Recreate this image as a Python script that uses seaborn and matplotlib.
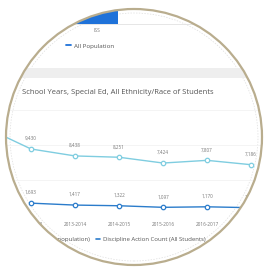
import numpy as np
import pandas as pd
import matplotlib
matplotlib.use('Agg')
import matplotlib.pyplot as plt
import matplotlib.patches as mpatches
from matplotlib.path import Path
from matplotlib.lines import Line2D
from matplotlib.transforms import IdentityTransform
import seaborn as sns

# Data
years = ['2011-2012', '2012-2013', '2013-2014', '2014-2015', '2015-2016',
         '2016-2017', '2017-2018']
all_population = [12400, 9430, 8438, 8251, 7424, 7807, 7186]
all_students = [np.nan, 1693, 1417, 1322, 1097, 1170, 1044]
bar_cats = ['ISS']
bar_vals = [100]

light = '#7fcde0'
dark = '#2b7ccb'
grey_txt = '#777777'

sns.set_theme(style='white')
plt.rcParams['font.family'] = ['Open Sans', 'DejaVu Sans']

W, H = 266, 268
fig = plt.figure(figsize=(W / 100, H / 100), dpi=100)
fig.patch.set_facecolor('white')


def rect(l, t, r, b):
    return [l / W, 1 - b / H, (r - l) / W, (b - t) / H]


# top visual: a single column, mostly outside the lens
axb = fig.add_axes(rect(55, -20, 230, 24))
bdf = pd.DataFrame({'cat': bar_cats, 'val': bar_vals})
sns.barplot(data=bdf, x='cat', y='val', color='#1f72d9', saturation=1, width=0.8,
            linewidth=0, edgecolor='none', ax=axb)
axb.set_xlim(-0.8, 2.53)
axb.set_ylim(0, 60)
axb.set_xlabel('')
axb.set_ylabel('')
axb.set_yticks([])
for s in ['top', 'right', 'left']:
    axb.spines[s].set_visible(False)
axb.spines['bottom'].set_color('#e2e2e2')
axb.spines['bottom'].set_linewidth(0.6)
axb.tick_params(axis='x', length=0, pad=3, labelsize=3.6, labelcolor=grey_txt)
axb.patch.set_alpha(0)
fig.legend(handles=[Line2D([], [], color='#1f72d9', lw=1.3)], labels=['All Population'],
           loc='center left', bbox_to_anchor=(63 / W, 1 - 46 / H), frameon=False,
           fontsize=4.5, handlelength=0.8, handletextpad=0.5, borderpad=0,
           labelcolor='#555555')

# grey separator band
fig.add_artist(mpatches.Rectangle((0, 1 - 78 / H), 1, 10 / H, transform=fig.transFigure,
                                  facecolor='#eeeeee', edgecolor='none'))

fig.text(22 / W, 1 - 92 / H, 'School Years, Special Ed, All Ethnicity/Race of Students',
         fontsize=5.5, color='#555555', va='center', ha='left')

# main line chart
ax = fig.add_axes(rect(0, 100, 266, 215))
df = pd.DataFrame({'year': years, 'pop': all_population, 'stu': all_students})
for col, c in [('pop', light), ('stu', dark)]:
    sns.lineplot(data=df, x='year', y=col, color=c, lw=1.0, marker='o', markersize=3.2,
                 markerfacecolor='white', markeredgecolor=c, markeredgewidth=0.9, ax=ax)
    for i, v in enumerate(df[col]):
        if not np.isnan(v):
            ax.annotate(f'{int(v):,}', (i, v), xytext=(0, 7.5), textcoords='offset points',
                        ha='center', va='center', fontsize=3.3, color=grey_txt)
ax.set_xlim(1 - 31 / 44, 1 + 235 / 44)
ax.set_ylim(0, 115 / 0.007)
ax.set_yticks([5000, 10000, 15000])
ax.set_yticklabels([])
ax.grid(axis='y', color='#f3f3f3', lw=0.6)
ax.set_xlabel('')
ax.set_ylabel('')
ax.tick_params(axis='x', length=0, pad=5, labelsize=3.4, labelcolor=grey_txt)
ax.tick_params(axis='y', length=0)
sns.despine(ax=ax, left=True, bottom=True)
ax.patch.set_alpha(0)

ax.legend(handles=[Line2D([], [], color=light, lw=1.2), Line2D([], [], color=dark, lw=1.2)],
          labels=['Enrollment (All population)', 'Discipline Action Count (All Students)'],
          loc='center right', bbox_to_anchor=(209 / W, 1 - 239 / H),
          bbox_transform=fig.transFigure, ncol=2, frameon=False, fontsize=4.3,
          handlelength=0.8, handletextpad=0.5, columnspacing=1.0, borderpad=0,
          labelcolor='#555555')

# lens: white mask outside the circle, then the rim
cx, cy, r = 134, H - 137, 128
t = np.linspace(0, 2 * np.pi, 200)
circ = np.column_stack([cx + r * np.cos(t), cy + r * np.sin(t)])
outer = np.array([[0, 0], [0, H], [W, H], [W, 0], [0, 0]], float)
verts = np.vstack([outer, circ])
codes = ([Path.MOVETO] + [Path.LINETO] * 3 + [Path.CLOSEPOLY]
         + [Path.MOVETO] + [Path.LINETO] * (len(circ) - 1))
mask = mpatches.PathPatch(Path(verts, codes), facecolor='white', edgecolor='none',
                          transform=IdentityTransform(), zorder=50)
fig.add_artist(mask)
# faint dashed inner ring sits under the charts
fig.add_artist(mpatches.Circle((cx, cy), r - 4, transform=IdentityTransform(), fill=False,
                               edgecolor='#dddddd', lw=0.5, ls=(0, (2, 2)), zorder=-1))
fig.add_artist(mpatches.Circle((cx, cy), r, transform=IdentityTransform(), fill=False,
                               edgecolor='#b9ad8e', lw=1.6, zorder=52))

fig.savefig('out.png', dpi=100)
